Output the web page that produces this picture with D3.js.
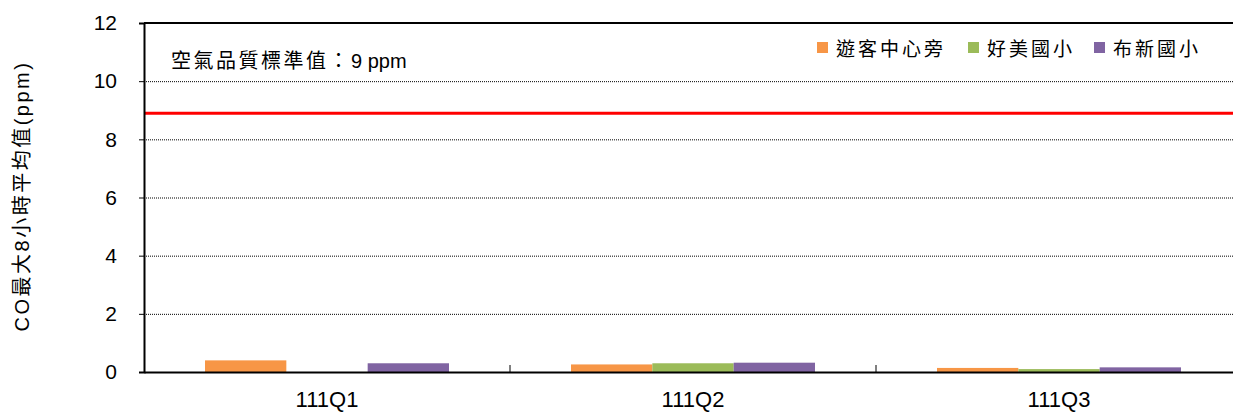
<!DOCTYPE html>
<html><head><meta charset="utf-8">
<script src="https://cdn.jsdelivr.net/npm/d3@7"></script>
<style>body{margin:0;background:#fff}</style>
</head><body>
<svg id="c" width="1233" height="412"></svg>
<script>
const categories = ["111Q1", "111Q2", "111Q3"];
const seriesNames = ["遊客中心旁", "好美國小", "布新國小"];
const visitorCenter = [0.4, 0.26, 0.14];
const haomeiSchool = [0, 0.3, 0.1];
const buxinSchool = [0.3, 0.32, 0.16];
const yTicks = [0, 2, 4, 6, 8, 10, 12];
const standardValue = 8.9;
const standardLabelCJK = "空氣品質標準值：";
const standardLabelNum = "9 ppm";
const yTitle = "CO最大8小時平均值(ppm)";
const colors = ["#F79646", "#9BBB59", "#8064A2"];
const seriesValues = [visitorCenter, haomeiSchool, buxinSchool];

const svg = d3.select("#c");
const L = 144, R = 1242, T = 23, B = 372;
const font = "'Liberation Sans', Arial, 'Noto Sans CJK TC', sans-serif";
const cjk = "'Noto Sans CJK TC', sans-serif";

const x = d3.scaleBand().domain(categories).range([L, R]).paddingInner(0).paddingOuter(0);
const xs = d3.scaleBand().domain(d3.range(3)).range([0, x.bandwidth()]).paddingInner(0).paddingOuter(0.75);
const y = d3.scaleLinear().domain([0, 12]).range([B, T]);

// grid
svg.append("g").selectAll("line").data(yTicks.filter(d => d > 0 && d < 12)).join("line")
  .attr("x1", L).attr("x2", R).attr("y1", d => y(d)+0.5).attr("y2", d => y(d)+0.5)
  .attr("stroke", "#000").attr("stroke-width", 1).attr("stroke-dasharray", "1,1");

// bars
const g = svg.append("g");
categories.forEach((c, i) => {
  seriesValues.forEach((vals, s) => {
    if (vals[i] > 0) {
      g.append("rect").attr("x", x(c) + xs(s)).attr("width", xs.bandwidth())
        .attr("y", y(vals[i])).attr("height", B - y(vals[i])).attr("fill", colors[s]);
    }
  });
});

// standard line
svg.append("line").attr("x1", L).attr("x2", R).attr("y1", y(standardValue)).attr("y2", y(standardValue))
  .attr("stroke", "#FF0000").attr("stroke-width", 3);

// top border
svg.append("line").attr("x1", L).attr("x2", R).attr("y1", T).attr("y2", T).attr("stroke", "#000").attr("stroke-width", 2);

// y axis
const ya = svg.append("g").attr("transform", `translate(${L},0)`)
  .call(d3.axisLeft(y).tickValues(yTicks).tickSize(5).tickFormat(d3.format("d")));
ya.select(".domain").attr("stroke-width", 2);
ya.selectAll(".tick line").attr("stroke-width", 1);
ya.selectAll("text").attr("font-family", font).attr("font-size", 21).attr("fill", "#000").attr("x", -27);

// x axis
const xa = svg.append("g").attr("transform", `translate(0,${B})`)
  .call(d3.axisBottom(x).tickSize(0).tickSizeOuter(0));
xa.select(".domain").attr("stroke-width", 2);
xa.selectAll("text").attr("font-family", font).attr("font-size", 22).attr("fill", "#000")
  .attr("y", 0).attr("dy", 0).attr("transform", "translate(0,35)");
svg.append("g").selectAll("line").data(categories.slice(1)).join("line")
  .attr("x1", d => x(d)).attr("x2", d => x(d)).attr("y1", B).attr("y2", B - 7)
  .attr("stroke", "#000").attr("stroke-width", 1);

// y title
svg.append("text").attr("transform", "translate(29,196) rotate(-90)").attr("text-anchor", "middle")
  .attr("font-family", font).attr("font-size", 20).attr("letter-spacing", 2.5).text(yTitle);

// annotation
const ann = svg.append("text").attr("x", 171).attr("y", 68).attr("font-family", font).attr("font-size", 20);
ann.append("tspan").attr("font-family", cjk).attr("letter-spacing", 2.5).text(standardLabelCJK);
ann.append("tspan").text(standardLabelNum);

// legend
const legX = [817, 968, 1094];
seriesNames.forEach((n, i) => {
  svg.append("rect").attr("x", legX[i]).attr("y", 42).attr("width", 11).attr("height", 11).attr("fill", colors[i]);
  svg.append("text").attr("x", legX[i] + 19).attr("y", 56).attr("font-family", cjk).attr("font-size", 19)
    .attr("letter-spacing", 3).text(n);
});
</script>
</body></html>
